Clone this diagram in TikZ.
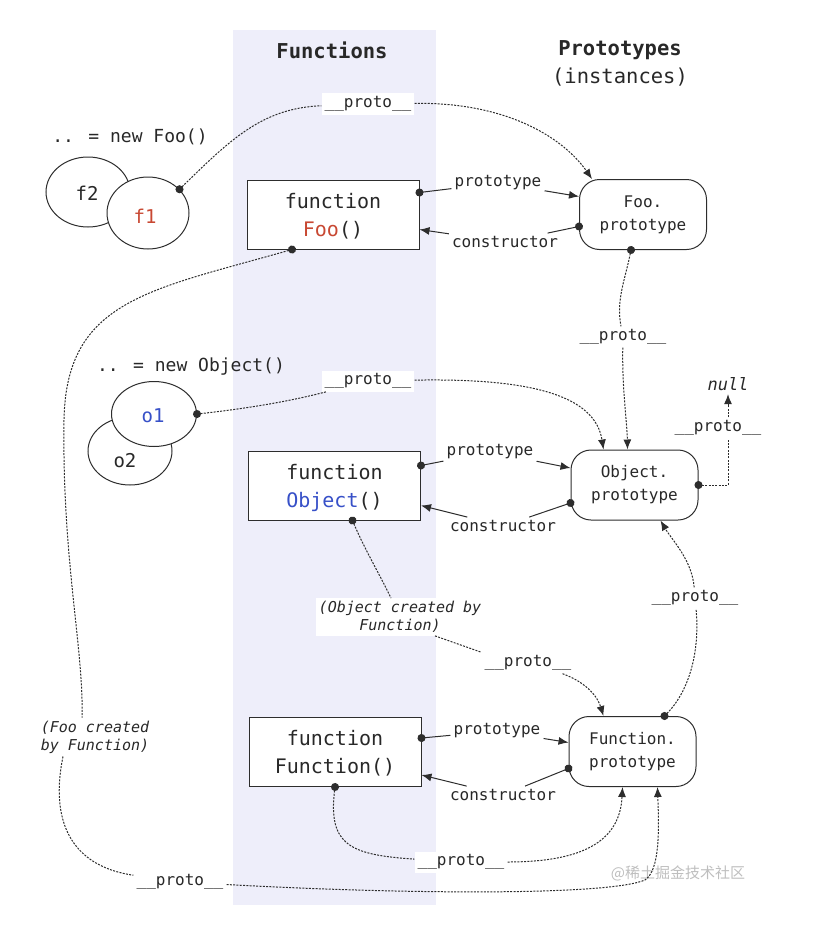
\documentclass[tikz,border=0pt]{standalone}
\usepackage{fontspec}
\setmainfont{DejaVu Sans Mono}
\newfontfamily\cjk{Noto Sans CJK SC}
\usetikzlibrary{arrows.meta,shapes.geometric}
\definecolor{band}{RGB}{238,238,250}
\definecolor{ink}{RGB}{40,40,40}
\definecolor{lnk}{RGB}{45,45,45}
\definecolor{fooRed}{RGB}{200,72,50}
\definecolor{objBlue}{RGB}{55,80,200}
\definecolor{wm}{RGB}{190,190,190}
\begin{document}
\begin{tikzpicture}[x=1pt,y=-1pt,
  every node/.style={text=ink},
  fnbox/.style={draw=lnk, line width=1pt, fill=white, minimum width=172pt, minimum height=69pt, inner sep=0pt, align=center, text depth=-4pt, font=\fontsize{20}{28}\selectfont},
  protobox/.style={draw=lnk, line width=1pt, fill=white, rounded corners=20pt, minimum width=127pt, minimum height=70pt, inner sep=0pt, align=center, font=\fontsize{16}{23}\selectfont},
  inst/.style={ellipse, draw=lnk, line width=1pt, fill=white, inner sep=0pt},
  insttext/.style={font=\fontsize{19}{22}\selectfont},
  lbl/.style={fill=white, inner sep=3pt, font=\fontsize{16}{18}\selectfont},
  note/.style={fill=white, inner sep=3pt, align=center, font=\fontsize{15}{18}\selectfont\itshape},
  head/.style={font=\fontsize{20.5}{24}\selectfont\bfseries},
  plain/.style={font=\fontsize{18}{22}\selectfont},
  solidlink/.style={draw=lnk, line width=1pt},
  dashlink/.style={draw=lnk, line width=1pt, dash pattern=on 2pt off 1.3pt},
  dotstart/.style={{Circle[length=8pt]}-, shorten <=-4pt},
  arrowend/.style={-{Latex[length=10pt,width=8pt]}},
]
\useasboundingbox (0,0) rectangle (827,932);
\fill[band] (233,30) rectangle (436,905);

% headers
\node[head] (hFun) at (332,50) {Functions};
\node[head] (hProto) at (620,50) {Prototypes};
\node[font=\fontsize{20.5}{24}\selectfont] (hInst) at (620,77) {(instances)};

% instances
\node[plain] (newFoo) at (130,137) {.. = new Foo()};
\node[inst, minimum width=84pt, minimum height=70pt] (f2) at (88,192) {};
\node[insttext] (f2t) at (87,193) {f2};
\node[inst, minimum width=82pt, minimum height=72pt] (f1) at (148,213) {};
\node[insttext, text=fooRed] (f1t) at (145,216) {f1};
\node[plain] (newObj) at (191,367) {.. = new Object()};
\node[inst, minimum width=84pt, minimum height=68pt] (o2) at (130,451) {};
\node[insttext] (o2t) at (125,461) {o2};
\node[inst, minimum width=85pt, minimum height=65pt] (o1) at (154,414) {};
\node[insttext, text=objBlue] (o1t) at (153,416) {o1};

% functions
\node[fnbox] (foo) at (333,214.5) {function\\\textcolor{fooRed}{Foo}()};
\node[fnbox] (obj) at (334.5,485.5) {function\\\textcolor{objBlue}{Object}()};
\node[fnbox] (fun) at (335,752) {function\\Function()};

% prototypes
\node[protobox] (fooP) at (643,214.5) {Foo.\\prototype};
\node[protobox] (objP) at (634.5,485) {Object.\\prototype};
\node[protobox] (funP) at (632.5,751.5) {Function.\\prototype};

\node[font=\fontsize{17}{20}\selectfont\itshape] (nullN) at (728,384) {null};

% labels
\node[lbl] (lpFoo) at (498,183) {prototype};
\node[lbl] (lcFoo) at (505,242) {constructor};
\node[lbl] (lpObj) at (490,452) {prototype};
\node[lbl] (lcObj) at (503,526) {constructor};
\node[lbl] (lpFun) at (497,731) {prototype};
\node[lbl] (lcFun) at (503,795) {constructor};

\node[lbl] (pTop) at (368,104) {\_\_proto\_\_};
\node[lbl] (vFoo) at (623,337) {\_\_proto\_\_};
\node[lbl] (pObj) at (368,381) {\_\_proto\_\_};
\node[lbl] (pNull) at (718,428) {\_\_proto\_\_};
\node[lbl] (pRight) at (695,598) {\_\_proto\_\_};
\node[lbl] (pMid) at (528,663) {\_\_proto\_\_};
\node[lbl] (pFun) at (461,862) {\_\_proto\_\_};
\node[lbl] (pBot) at (180,882) {\_\_proto\_\_};

\node[note] (objNote) at (400,617) {(Object created by\\Function)};
\node[note] (fooNote) at (95,737) {(Foo created\\by Function)};

\node[font=\cjk\fontsize{15}{18}\selectfont, text=wm] (wmark) at (678,873) {@稀土掘金技术社区};

% prototype / constructor links
\draw[solidlink, dotstart] ([yshift=22pt]foo.east) -- (lpFoo);
\draw[solidlink, arrowend] (lpFoo) -- ([yshift=18pt]fooP.west);
\draw[solidlink, dotstart] ([yshift=-12pt]fooP.west) -- (lcFoo);
\draw[solidlink, arrowend] (lcFoo) -- ([yshift=-15pt]foo.east);

\draw[solidlink, dotstart] ([yshift=20pt]obj.east) -- (lpObj);
\draw[solidlink, arrowend] (lpObj) -- ([yshift=17pt]objP.west);
\draw[solidlink, dotstart] ([yshift=-18pt]objP.west) -- (lcObj);
\draw[solidlink, arrowend] (lcObj) -- ([yshift=-20pt]obj.east);

\draw[solidlink, dotstart] ([yshift=14pt]fun.east) -- (lpFun);
\draw[solidlink, arrowend] (lpFun) -- ([yshift=9pt]funP.west);
\draw[solidlink, dotstart] ([yshift=-17pt]funP.west) -- (lcFun);
\draw[solidlink, arrowend] (lcFun) -- ([yshift=-23pt]fun.east);

% __proto__ links
\draw[dashlink, dotstart] (f1.37) .. controls (230,140) and (262,108) .. (pTop);
\draw[dashlink, arrowend] (pTop) .. controls (510,102) and (565,140) .. ([xshift=-51pt]fooP.north);

\draw[dashlink, dotstart] ([xshift=-12pt]fooP.south) .. controls (625,280) and (616,300) .. (vFoo);
\draw[dashlink, arrowend] (vFoo) .. controls (622,390) and (627,420) .. ([xshift=-7pt]objP.north);

\draw[dashlink, dotstart] (o1.east) .. controls (270,406) and (310,396) .. (pObj);
\draw[dashlink, arrowend] (pObj) .. controls (530,378) and (595,395) .. ([xshift=-31pt]objP.north);

\draw[dashlink, dotstart] (objP.east) -| (pNull.south -| nullN);
\draw[dashlink, arrowend] (pNull.north -| nullN) -- (nullN);

\draw[dashlink, dotstart] ([xshift=18pt]obj.south) .. controls (365,550) and (380,575) .. (objNote);
\draw[dashlink] ([xshift=35pt]objNote.south) -- (pMid.north west);
\draw[dashlink, arrowend] ([xshift=-12pt]pMid.south east) .. controls (588,683) and (598,698) .. ([xshift=-29pt]funP.north);

\draw[dashlink, dotstart] ([xshift=32pt]funP.north) .. controls (690,690) and (700,650) .. (pRight);
\draw[dashlink, arrowend] (pRight) .. controls (692,560) and (672,540) .. ([xshift=26pt]objP.south);

\draw[dashlink, dotstart] (fun.south) .. controls (328,845) and (350,855) .. (pFun);
\draw[dashlink, arrowend] (pFun) .. controls (585,862) and (620,840) .. ([xshift=-10pt]funP.south);

\draw[dashlink, dotstart] ([xshift=-41pt]foo.south) .. controls (150,290) and (66,300) .. (64,420) .. controls (62,560) and (84,650) .. ([xshift=-13pt]fooNote.north);
\draw[dashlink] ([xshift=-32pt]fooNote.south) .. controls (50,820) and (70,866) .. (pBot);
\draw[dashlink, arrowend] (pBot) .. controls (420,895) and (610,895) .. (645,880) .. controls (660,870) and (659,830) .. ([xshift=25pt]funP.south);
\end{tikzpicture}
\end{document}
